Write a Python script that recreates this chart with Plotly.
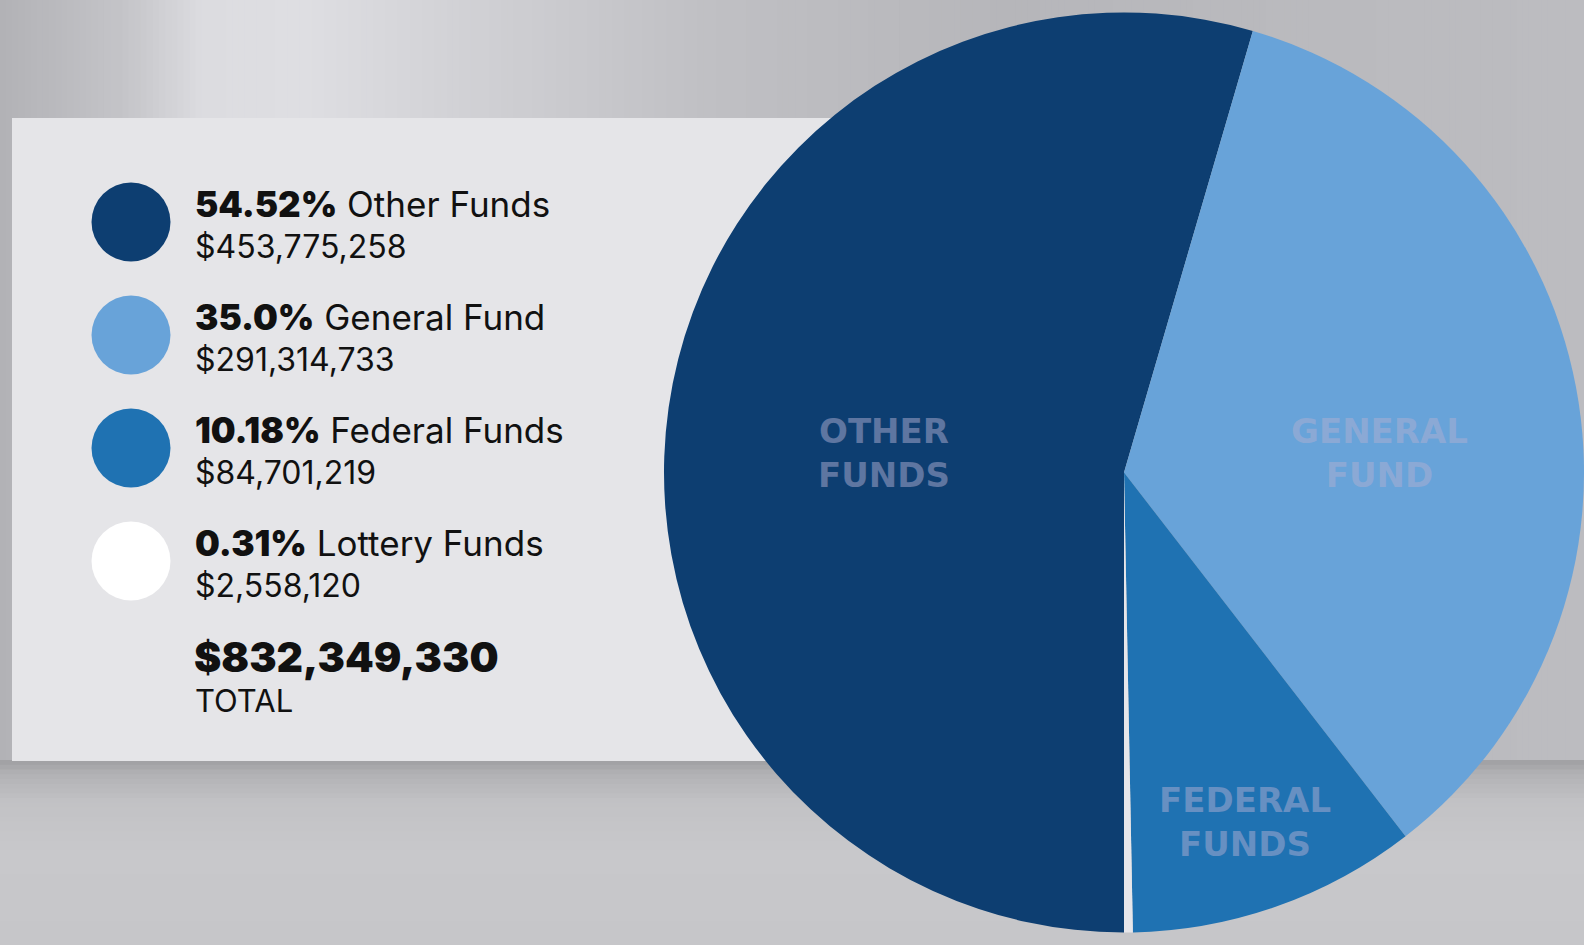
import numpy as np
import plotly.graph_objects as go

# Budget split by funding source
categories = ["Other Funds", "General Fund", "Federal Funds", "Lottery Funds"]
amounts = [453775258, 291314733, 84701219, 2558120]
pct_labels = ["54.52%", "35.0%", "10.18%", "0.31%"]
total_label = "$832,349,330"
slice_names = ["OTHER<br>FUNDS", "GENERAL<br>FUND", "FEDERAL<br>FUNDS", ""]

colors = ["#0d3e71", "#68a3d9", "#1f72b2", "#e6e6ea"]
W, H = 1584, 945

fig = go.Figure()

# studio backdrop: vertical light streak on the wall, floor below the panel
xs = np.linspace(0, W, 260)
stops_x = [0, 120, 200, 300, 450, 700, 1000, 1300, 1584]
stops_g = [178, 196, 220, 222, 210, 192, 182, 186, 188]
g = np.interp(xs, stops_x, stops_g)
for i in range(len(xs) - 1):
    v = int(round(g[i]))
    fig.add_shape(type="rect", x0=xs[i], x1=xs[i + 1] + 1, y0=0, y1=770,
                  fillcolor=f"rgb({v},{v},{v + 4})", line_width=0, layer="below")

ys = np.linspace(760, H, 40)
fg = np.interp(ys, [760, 772, 800, 850, 945], [162, 178, 194, 200, 198])
for i in range(len(ys) - 1):
    v = int(round(fg[i]))
    fig.add_shape(type="rect", x0=0, x1=W, y0=ys[i], y1=ys[i + 1] + 1,
                  fillcolor=f"rgb({v},{v},{v + 3})", line_width=0, layer="below")

# legend panel
fig.add_shape(type="rect", x0=12, x1=900, y0=118, y1=761,
              fillcolor="#e5e5e8", line_width=0, layer="below")

fig.add_trace(go.Pie(
    labels=categories,
    values=amounts,
    marker=dict(colors=colors, line=dict(width=0)),
    sort=False,
    direction="clockwise",
    rotation=180,
    textinfo="none",
    hoverinfo="label+value+percent",
    showlegend=False,
    domain=dict(x=[664 / W, 1], y=[0, 1]),
))

# legend dots
row_y = [222 + i * 113 for i in range(len(categories))]
fig.add_trace(go.Scatter(
    x=[131] * len(categories), y=row_y, mode="markers",
    marker=dict(size=79, color=colors[:3] + ["#ffffff"], line=dict(width=0)),
    hoverinfo="skip", showlegend=False,
))

font_fam = "Inter, Roboto, Liberation Sans, sans-serif"
for i, name in enumerate(categories):
    fig.add_annotation(
        x=193, y=row_y[i] - 18, xref="x", yref="y", xanchor="left", yanchor="middle",
        text=f"<span style='font-weight:900'>{pct_labels[i]}</span> {name}",
        showarrow=False, font=dict(family=font_fam, size=35, color="#111111"),
    )
    fig.add_annotation(
        x=193, y=row_y[i] + 24, xref="x", yref="y", xanchor="left", yanchor="middle",
        text=f"${amounts[i]:,}",
        showarrow=False, font=dict(family=font_fam, size=32, color="#111111"),
    )

fig.add_annotation(
    x=192, y=657, xref="x", yref="y", xanchor="left", yanchor="middle",
    text=f"<span style='font-weight:900'>{total_label}</span>",
    showarrow=False, font=dict(family=font_fam, size=41, color="#111111"),
)
fig.add_annotation(
    x=193, y=700, xref="x", yref="y", xanchor="left", yanchor="middle",
    text="TOTAL", showarrow=False,
    font=dict(family=font_fam, size=31, color="#111111"),
)

# labels printed on the slices
label_pos = [(884, 453), (1379, 453), (1245, 822)]
for (lx, ly), txt in zip(label_pos, slice_names[:3]):
    fig.add_annotation(
        x=lx, y=ly, xref="x", yref="y", xanchor="center", yanchor="middle",
        text=f"<b>{txt}</b>", showarrow=False,
        font=dict(family="DejaVu Sans, sans-serif", size=34, color="rgba(175,175,210,0.5)"),
    )

fig.update_layout(
    width=W, height=H,
    margin=dict(l=0, r=0, t=0, b=0),
    paper_bgcolor="#bcbcc0",
    plot_bgcolor="rgba(0,0,0,0)",
    xaxis=dict(range=[0, W], visible=False, fixedrange=True, domain=[0, 1]),
    yaxis=dict(range=[H, 0], visible=False, fixedrange=True, domain=[0, 1]),
)

fig.write_html("out.html", config={"displayModeBar": False},
               post_script="document.body.style.margin='0';")
